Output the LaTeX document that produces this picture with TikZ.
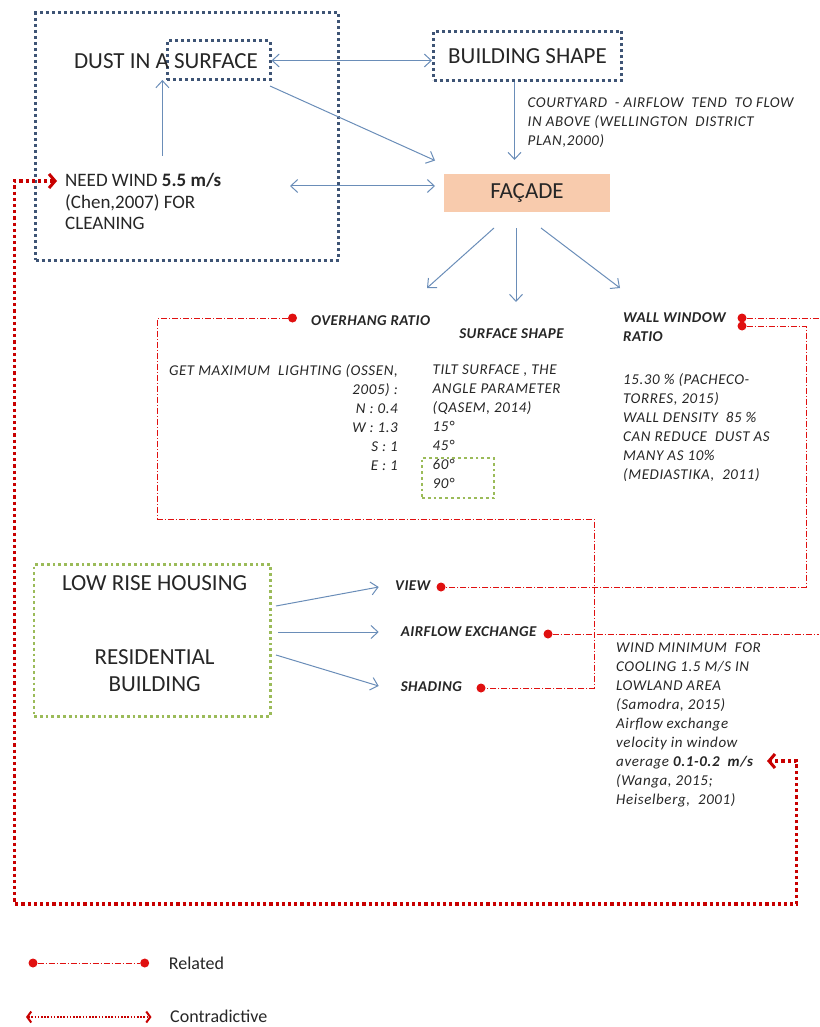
\documentclass[tikz,border=0pt]{standalone}
\usepackage{fontspec}
\setmainfont{Carlito}
\usetikzlibrary{arrows.meta}
\definecolor{arrowblue}{HTML}{6A8DB8}
\definecolor{boxblue}{HTML}{3E5475}
\definecolor{boxgreen}{HTML}{9BBB59}
\definecolor{relred}{HTML}{E01010}
\definecolor{conred}{HTML}{C80000}
\definecolor{facadefill}{HTML}{F8CBAD}
\definecolor{txt}{HTML}{262626}
\begin{document}
\begin{tikzpicture}[x=1pt,y=-1pt,
  bluebox/.style={draw=boxblue, line width=3pt, dash pattern=on 3pt off 3pt},
  greenbox/.style={draw=boxgreen, line width=2.8pt, dash pattern=on 2.8pt off 3pt},
  barrow/.style={draw=arrowblue, line width=1pt, -{Straight Barb[length=7pt,width=13pt]}},
  bdarrow/.style={draw=arrowblue, line width=1pt, {Straight Barb[length=7pt,width=13pt]}-{Straight Barb[length=7pt,width=13pt]}},
  rel/.style={draw=relred, line width=0.8pt, dash pattern=on 6pt off 2pt on 1pt off 2pt},
  reldot/.style={circle, fill=relred, inner sep=0pt, minimum size=9pt},
  contra/.style={draw=conred, line width=3.2pt, dash pattern=on 3.2pt off 3pt,
    {Straight Barb[length=6pt,width=14pt,line width=3pt]}-{Straight Barb[length=6pt,width=14pt,line width=3pt]}},
  big/.style={font=\fontsize{23}{27}\selectfont, text=txt, inner sep=0pt},
  med/.style={font=\fontsize{19}{21.5}\selectfont, text=txt, inner sep=0pt},
  leg/.style={font=\fontsize{18}{21}\selectfont, text=txt, inner sep=0pt},
  ital/.style={font=\fontsize{15}{19}\selectfont\itshape\addfontfeatures{LetterSpace=4}, text=txt, inner sep=0pt},
  lab/.style={font=\fontsize{15}{19}\selectfont\bfseries\itshape\addfontfeatures{LetterSpace=3}, text=txt, inner sep=0pt},
]
\useasboundingbox (0,0) rectangle (819,1027);

% top group
\node[bluebox, minimum width=303pt, minimum height=247pt] (outer) at (187,136.5) {};
\node[bluebox, minimum width=103pt, minimum height=39pt] (surf) at (218.5,60.5) {};
\node[big] (dust) at (166,61) {DUST IN A SURFACE};
\node[bluebox, big, minimum width=188pt, minimum height=49pt] (bshape) at (527.5,56) {BUILDING SHAPE};
\node[fill=facadefill, big, minimum width=166pt, minimum height=37pt] (facade) at (527,193) {FAÇADE};
\node[med, anchor=north west, align=left] (need) at (65,173) {NEED WIND \textbf{5.5 m/s}\\(Chen,2007) FOR\\CLEANING};
\node[ital, anchor=north west, align=left] (court) at (527.5,97.5) {COURTYARD \ - AIRFLOW \ TEND \ TO FLOW\\IN ABOVE (WELLINGTON \ DISTRICT\\PLAN,2000)};

\coordinate (s1) at (270,86);
\coordinate (f1) at (435,160.5);
\coordinate (u1) at (162.4,156);
\coordinate (u2) at (162.4,80);
\coordinate (w1) at (290,186);
\coordinate (f2) at (435,186);
\coordinate (b1) at (514.5,82);
\coordinate (f3) at (514.5,160);
\draw[bdarrow] (surf.east) -- (bshape.west |- surf.east);
\draw[barrow] (s1) -- (f1);
\draw[barrow] (u1) -- (u2);
\draw[bdarrow] (w1) -- (f2);
\draw[barrow] (b1) -- (f3);

% facade children
\coordinate (fa) at (494,228);
\coordinate (fb) at (516,228);
\coordinate (fc) at (541,228);
\coordinate (ta) at (427,288);
\coordinate (tb) at (516,302);
\coordinate (tc) at (620,288);
\draw[barrow] (fa) -- (ta);
\draw[barrow] (fb) -- (tb);
\draw[barrow] (fc) -- (tc);

\node[lab, anchor=west] (overhang) at (311,321) {OVERHANG RATIO};
\node[lab] (sshape) at (511.5,334) {SURFACE SHAPE};
\node[lab, anchor=north west, align=left] (wwr) at (623,312.5) {WALL WINDOW\\RATIO};

\node[ital, anchor=north east, align=right] (light) at (398,364.5) {GET MAXIMUM \ LIGHTING (OSSEN,\\2005) :\\N : 0.4\\W : 1.3\\S : 1\\E : 1};
\node[ital, anchor=north west, align=left] (tilt) at (432.5,364.5) {TILT SURFACE , THE\\ANGLE PARAMETER\\(QASEM, 2014)\\15°\\45°\\60°\\90°};
\node[greenbox, minimum width=72pt, minimum height=40pt] (g90) at (458,478) {};
\node[ital, anchor=north west, align=left] (wtext) at (623,373.5) {15.30 \% (PACHECO-\\TORRES, 2015)\\WALL DENSITY \ 85 \%\\CAN REDUCE \ DUST AS\\MANY AS 10\%\\(MEDIASTIKA, \ 2011)};

% low rise
\node[greenbox, minimum width=236.5pt, minimum height=151.5pt] (low) at (152.3,640.5) {};
\node[big] (lrh) at (154.6,583) {LOW RISE HOUSING};
\node[big, align=center] (res) at (154.6,670.5) {RESIDENTIAL\\BUILDING};

\node[lab, anchor=west] (view) at (395,586) {VIEW};
\node[lab, anchor=west] (air) at (400.6,632) {AIRFLOW EXCHANGE};
\node[lab, anchor=west] (shade) at (400.6,687) {SHADING};
\coordinate (l1) at (276,606);
\coordinate (l2) at (278.4,632);
\coordinate (l3) at (276,655);
\coordinate (v1) at (378.7,587);
\coordinate (v2) at (378.7,632);
\coordinate (v3) at (378.7,686);
\draw[barrow] (l1) -- (v1);
\draw[barrow] (l2) -- (v2);
\draw[barrow] (l3) -- (v3);

\node[ital, anchor=north west, align=left] (wind) at (616,643) {WIND MINIMUM \ FOR\\COOLING 1.5 M/S IN\\LOWLAND AREA\\(Samodra, 2015)\\Airflow exchange\\velocity in window\\average \textbf{0.1-0.2 \ m/s}\\(Wanga, 2015;\\Heiselberg, \ 2001)};

% related lines
\node[reldot] (dov) at (292.5,318) {};
\node[reldot] (dsh) at (481,688) {};
\node[reldot] (dw1) at (742,318) {};
\node[reldot] (dw2) at (742,326) {};
\node[reldot] (dvi) at (441,587) {};
\node[reldot] (dai) at (548,634) {};
\coordinate (e1) at (819,318);
\coordinate (e2) at (819,634);
\draw[rel] (dov) -- (157.7,318) -- (157.7,519) -- (594,519) -- (594,688) -- (dsh);
\draw[rel] (dw1) -- (e1);
\draw[rel] (dw2) -- (806,326) -- (806,587) -- (dvi);
\draw[rel] (dai) -- (e2);

% contradictive
\coordinate (ntip) at (57,181);
\coordinate (wtip) at (767,761);
\draw[contra] (ntip) -- (14.6,181) |- (796.5,904) |- (wtip);

% legend
\node[reldot] (lg1) at (33,963) {};
\node[reldot] (lg2) at (144.7,963) {};
\draw[rel] (lg1) -- (lg2);
\node[leg, anchor=west] (lrel) at (168.7,963) {Related};
\coordinate (lc1) at (26,1017);
\coordinate (lc2) at (151.5,1017);
\draw[draw=conred, line width=1.6pt, dash pattern=on 1.6pt off 1.6pt,
  {Straight Barb[length=4pt,width=11pt,line width=2pt]}-{Straight Barb[length=4pt,width=11pt,line width=2pt]}] (lc1) -- (lc2);
\node[leg, anchor=west] (lcon) at (170,1016) {Contradictive};
\end{tikzpicture}
\end{document}
